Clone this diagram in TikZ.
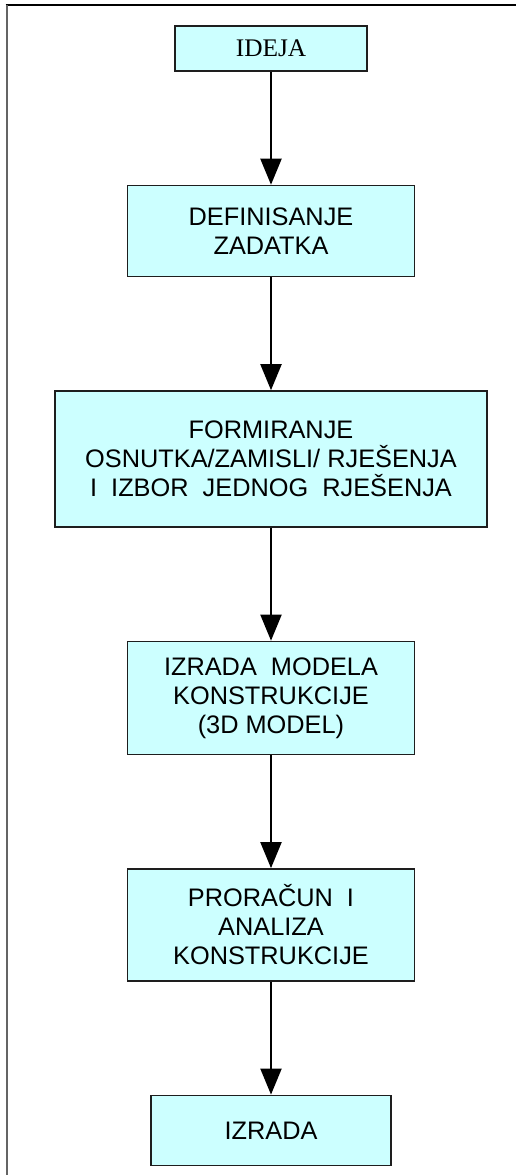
\documentclass[tikz,border=0pt]{standalone}
\usepackage{fontspec}
\setmainfont{Liberation Sans}
\newfontfamily\seriffont{Liberation Serif}
\usepackage{tikz}
\usetikzlibrary{arrows.meta, positioning}
\definecolor{boxcyan}{RGB}{204,255,255}
\definecolor{boxline}{RGB}{30,30,30}
\definecolor{frameline}{RGB}{100,100,100}

\begin{document}
\begin{tikzpicture}[x=0.75pt, y=-0.75pt,
    stepbox/.style={rectangle, draw=boxline, line width=1.1pt, fill=boxcyan, align=center, inner sep=0pt, font=\fontsize{19}{21.75}\selectfont},
    flow/.style={-{Triangle[width=15.75pt, length=19.5pt]}, line width=1.5pt},
    node distance=84.75pt]
        \useasboundingbox (0,0) rectangle (516,1175);
        % frame: top and left only
        \draw[line width=1.5pt] (5.5,4.5) -- (516,4.5);
        \draw[line width=1.5pt, frameline] (6.5,4.5) -- (6.5,1175);

        \node[stepbox, minimum width=144pt, minimum height=33.75pt, font=\seriffont\fontsize{19}{21.75}\selectfont] (ideja) at (271,48.5) {IDEJA};
        \node[stepbox, minimum width=215.25pt, minimum height=68.25pt] (zadatak) [below = of ideja] {DEFINISANJE\\ZADATKA};
        \node[stepbox, minimum width=324pt, minimum height=102pt] (osnutak) [below = of zadatak] {FORMIRANJE\\OSNUTKA/ZAMISLI/ RJEŠENJA\\I\ \ IZBOR\ \ JEDNOG\ \ RJEŠENJA};
        \node[stepbox, minimum width=215.25pt, minimum height=84.75pt] (model) [below = of osnutak] {IZRADA\ \ MODELA\\KONSTRUKCIJE\\(3D MODEL)};
        \node[stepbox, minimum width=215.25pt, minimum height=84pt] (proracun) [below = of model] {PRORAČUN\ \ I\\ANALIZA\\KONSTRUKCIJE};
        \node[stepbox, minimum width=180pt, minimum height=52.5pt] (izrada) [below = of proracun] {IZRADA};

        \draw[flow] (ideja) -- (zadatak);
        \draw[flow] (zadatak) -- (osnutak);
        \draw[flow] (osnutak) -- (model);
        \draw[flow] (model) -- (proracun);
        \draw[flow] (proracun) -- (izrada);
    \end{tikzpicture}
\end{document}
